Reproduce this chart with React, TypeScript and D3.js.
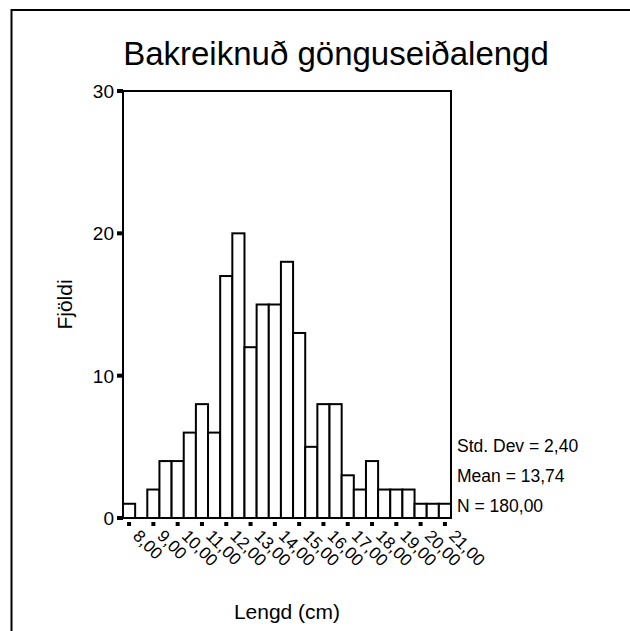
import React from "react";
import { scaleLinear } from "d3";

// histogram bins (centre of each 0,5 cm bin) and counts
const binCenters = [
  8.0, 8.5, 9.0, 9.5, 10.0, 10.5, 11.0, 11.5, 12.0, 12.5, 13.0, 13.5, 14.0, 14.5,
  15.0, 15.5, 16.0, 16.5, 17.0, 17.5, 18.0, 18.5, 19.0, 19.5, 20.0, 20.5, 21.0,
];
const counts = [
  1, 0, 2, 4, 4, 6, 8, 6, 17, 20, 12, 15, 15, 18, 13, 5, 8, 8, 3, 2, 4, 2, 2, 2, 1, 1, 1,
];
const xTicks = [8, 9, 10, 11, 12, 13, 14, 15, 16, 17, 18, 19, 20, 21];
const xTickLabels = [
  "8,00", "9,00", "10,00", "11,00", "12,00", "13,00", "14,00",
  "15,00", "16,00", "17,00", "18,00", "19,00", "20,00", "21,00",
];
const yTicks = [0, 10, 20, 30];
const statsLines = ["Std. Dev = 2,40", "Mean = 13,74", "N = 180,00"];

const binWidth = 0.5;
const font = "'Liberation Sans', Arial, sans-serif";

const App = () => {
  const left = 123;
  const right = 451;
  const top = 91;
  const bottom = 518;

  const x = scaleLinear().domain([7.75, 21.25]).range([left, right]);
  const y = scaleLinear().domain([0, 30]).range([bottom, top]);

  return (
    <svg
      width={630}
      height={631}
      style={{ position: "absolute", left: 0, top: 0, background: "#fff" }}
      fontFamily={font}
    >
      {/* outer frame, runs off the picture on the right and bottom */}
      <path d="M11.5,700 V10 H700" fill="none" stroke="#000" strokeWidth={2} />

      <text x={336} y={65} textAnchor="middle" fontSize={33}>
        Bakreiknuð gönguseiðalengd
      </text>

      {/* bars */}
      {counts.map((c, i) =>
        c > 0 ? (
          <rect
            key={i}
            x={x(binCenters[i] - binWidth / 2)}
            y={y(c)}
            width={x(binCenters[i] + binWidth / 2) - x(binCenters[i] - binWidth / 2)}
            height={y(0) - y(c)}
            fill="#fff"
            stroke="#000"
            strokeWidth={2}
          />
        ) : null
      )}

      {/* plot frame */}
      <rect
        x={left}
        y={top}
        width={right - left}
        height={bottom - top}
        fill="none"
        stroke="#000"
        strokeWidth={2}
      />

      {/* y axis */}
      {yTicks.map((t) => (
        <g key={t}>
          <rect x={left - 6} y={y(t) - 2} width={6} height={4} fill="#000" />
          <text x={left - 9} y={y(t)} dy="0.36em" textAnchor="end" fontSize={19}>
            {t}
          </text>
        </g>
      ))}
      <text transform={`translate(72,${(top + bottom) / 2}) rotate(-90)`} textAnchor="middle" fontSize={21}>
        Fjöldi
      </text>

      {/* x axis */}
      {xTicks.map((t, i) => (
        <g key={t}>
          <rect x={x(t) - 2} y={bottom + 4} width={4} height={4} fill="#000" />
          <text transform={`translate(${x(t) + 3},${bottom + 19}) rotate(45)`} fontSize={17}>
            {xTickLabels[i]}
          </text>
        </g>
      ))}
      <text x={(left + right) / 2} y={619} textAnchor="middle" fontSize={21}>
        Lengd (cm)
      </text>

      {/* summary statistics */}
      {statsLines.map((s, i) => (
        <text key={s} x={right + 6} y={452 + i * 30} fontSize={17.5}>
          {s}
        </text>
      ))}
    </svg>
  );
};

export default App;
